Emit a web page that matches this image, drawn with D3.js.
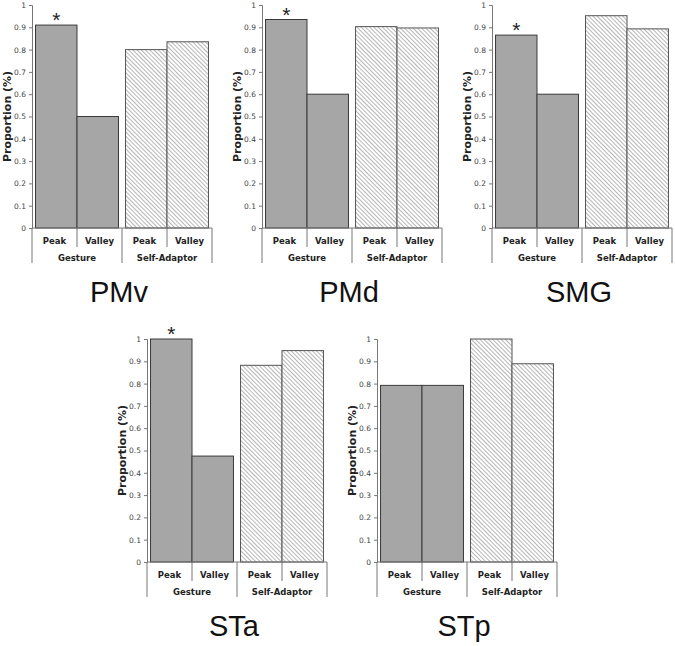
<!DOCTYPE html>
<html><head><meta charset="utf-8">
<script src="https://cdn.jsdelivr.net/npm/d3@7"></script>
<style>body{margin:0;background:#fff}svg{display:block}</style>
</head><body>
<script>
// ---- data ----
const regions = ["PMv", "PMd", "SMG", "STa", "STp"];
const groups = ["Gesture", "Self-Adaptor"];
const categories = ["Peak", "Valley"];
const valuesPMv = [0.91, 0.50, 0.80, 0.835];
const valuesPMd = [0.935, 0.60, 0.903, 0.897];
const valuesSMG = [0.865, 0.60, 0.952, 0.893];
const valuesSTa = [1.0, 0.475, 0.882, 0.948];
const valuesSTp = [0.792, 0.792, 1.0, 0.889];
const significant = [true, true, true, true, false]; // asterisk over Gesture Peak
const yTicks = [0, 0.1, 0.2, 0.3, 0.4, 0.5, 0.6, 0.7, 0.8, 0.9, 1];
const yLabel = "Proportion (%)";

const allValues = [valuesPMv, valuesPMd, valuesSMG, valuesSTa, valuesSTp];

// ---- layout ----
const W = 675, H = 646;
const origins = [[32, 5], [262, 5], [492, 5], [147, 339], [377, 339]];
const plotW = 180, plotH = 223;

const svg = d3.select("body").append("svg").attr("width", W).attr("height", H);
const defs = svg.append("defs");
const pat = defs.append("pattern").attr("id", "hatch").attr("patternUnits", "userSpaceOnUse")
  .attr("width", 3).attr("height", 3).attr("patternTransform", "rotate(-45)");
pat.append("rect").attr("width", 3).attr("height", 3).attr("fill", "#fff");
pat.append("line").attr("x1", 0).attr("y1", 0).attr("x2", 0).attr("y2", 3)
  .attr("stroke", "#858585").attr("stroke-width", 1.2);

const fmt = d => d === 0 ? "0" : d === 1 ? "1" : d3.format(".1f")(d);

regions.forEach((name, i) => {
  const [ox, oy] = origins[i];
  const g = svg.append("g").attr("transform", `translate(${ox},${oy})`);
  const vals = allValues[i];
  const y = d3.scaleLinear().domain([0, 1]).range([plotH, 0]);
  const xg = d3.scaleBand().domain(groups).range([0, plotW]).paddingInner(0).paddingOuter(0);
  const xc = d3.scaleBand().domain(categories).range([0, xg.bandwidth()]).paddingOuter(0.085).paddingInner(0);

  const data = [];
  groups.forEach((grp, gi) => categories.forEach((c, ci) => data.push({grp, c, gi, v: vals[gi * 2 + ci]})));

  g.selectAll("rect.bar").data(data).join("rect").attr("class", "bar")
    .attr("x", d => xg(d.grp) + xc(d.c))
    .attr("width", xc.bandwidth())
    .attr("y", d => y(d.v))
    .attr("height", d => plotH - y(d.v))
    .attr("fill", d => d.gi === 0 ? "#a6a6a6" : "url(#hatch)")
    .attr("stroke", d => d.gi === 0 ? "#3a3a3a" : "#555")
    .attr("stroke-width", 1);

  // y axis
  const yAxis = d3.axisLeft(y).tickValues(yTicks).tickFormat(fmt).tickSize(3).tickPadding(3);
  const ya = g.append("g").call(yAxis);
  ya.select(".domain").attr("stroke", "#777");
  ya.selectAll(".tick line").attr("stroke", "#777");
  ya.selectAll("text").attr("font-family", "DejaVu Sans, Verdana, sans-serif").attr("font-size", 7.5).attr("fill", "#444");

  // x axis baseline and category dividers
  g.append("line").attr("x1", 0).attr("x2", plotW).attr("y1", plotH).attr("y2", plotH).attr("stroke", "#777");
  const boundaries = [0, xg.bandwidth(), plotW];
  g.selectAll("line.gsep").data(boundaries).join("line").attr("class", "gsep")
    .attr("x1", d => d).attr("x2", d => d).attr("y1", plotH).attr("y2", plotH + 35)
    .attr("stroke", "#777");
  g.selectAll("line.csep").data(groups).join("line").attr("class", "csep")
    .attr("x1", d => xg(d) + xg.bandwidth() / 2).attr("x2", d => xg(d) + xg.bandwidth() / 2)
    .attr("y1", plotH).attr("y2", plotH + 19).attr("stroke", "#777");

  g.selectAll("text.cat").data(data).join("text").attr("class", "cat")
    .attr("x", d => xg(d.grp) + xg.bandwidth() / 4 * (d.c === "Peak" ? 1 : 3))
    .attr("y", plotH + 16)
    .attr("text-anchor", "middle")
    .attr("font-family", "DejaVu Sans, Verdana, sans-serif").attr("font-weight", "bold")
    .attr("font-size", 8.5).attr("fill", "#222").text(d => d.c);
  g.selectAll("text.grp").data(groups).join("text").attr("class", "grp")
    .attr("x", d => xg(d) + xg.bandwidth() / 2)
    .attr("y", plotH + 33)
    .attr("text-anchor", "middle")
    .attr("font-family", "DejaVu Sans, Verdana, sans-serif").attr("font-weight", "bold")
    .attr("font-size", 8.5).attr("fill", "#222").text(d => d);

  // y label
  g.append("text").attr("transform", `translate(-21,${plotH / 2}) rotate(-90)`)
    .attr("text-anchor", "middle")
    .attr("font-family", "DejaVu Sans, Verdana, sans-serif").attr("font-weight", "bold")
    .attr("font-size", 11).attr("fill", "#222").text(yLabel);

  // asterisk
  if (significant[i]) {
    const d0 = data[0];
    g.append("text").attr("x", xg(d0.grp) + xc(d0.c) + xc.bandwidth() / 2)
      .attr("y", y(d0.v) + 2)
      .attr("text-anchor", "middle")
      .attr("font-family", "Liberation Sans, Arial, sans-serif")
      .attr("font-size", 21).attr("fill", "#222").text("*");
  }

  // region title
  g.append("text").attr("x", plotW / 2 - 3).attr("y", plotH + 74)
    .attr("text-anchor", "middle")
    .attr("font-family", "Liberation Sans, Arial, sans-serif")
    .attr("font-size", 29).attr("fill", "#111").text(name);
});
</script>
</body></html>
